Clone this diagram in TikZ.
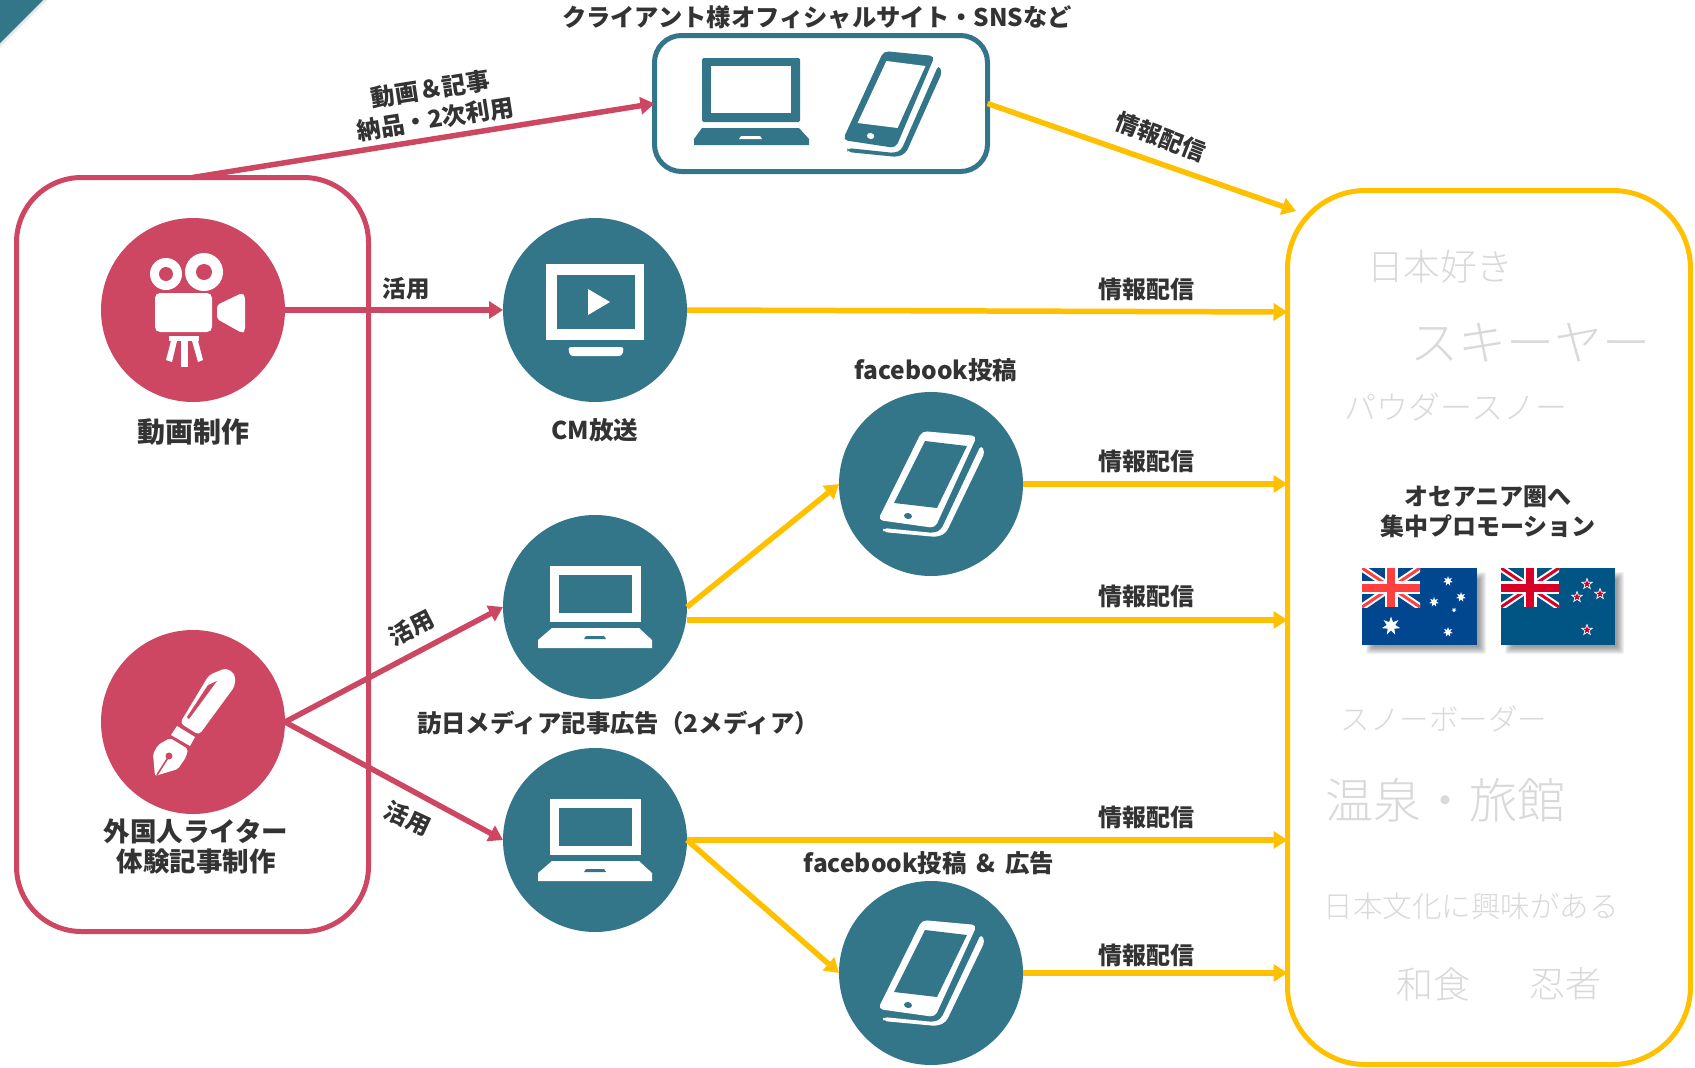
\documentclass[tikz,border=0pt]{standalone}
\usepackage{fontspec}
\setmainfont{Noto Sans CJK JP}
\newfontfamily\lightjp{Noto Sans CJK JP Light}
\usetikzlibrary{arrows.meta,shapes.geometric,calc}
\definecolor{teal}{HTML}{33768A}
\definecolor{rose}{HTML}{CD4662}
\definecolor{gold}{HTML}{FFC000}
\definecolor{ink}{HTML}{333333}
\definecolor{faint}{HTML}{D9D9D9}
\definecolor{aublue}{HTML}{00478F}
\definecolor{aured}{HTML}{FF4040}
\definecolor{nzblue}{HTML}{005584}
\definecolor{nzred}{HTML}{D80027}
\tikzset{
  disc/.style={circle,minimum size=184pt,inner sep=0pt,outer sep=0pt,fill=#1},
  frame/.style={rectangle,draw=#1,line width=5pt,fill=white,inner sep=0pt,outer sep=0pt},
  roseline/.style={draw=rose,line width=5.5pt,-{Triangle[width=17pt,length=14pt]},rose},
  goldline/.style={draw=gold,line width=5.5pt,-{Triangle[width=17pt,length=14pt]},gold},
  lab/.style={text=ink,inner sep=0pt,align=center,font=\bfseries\fontsize{#1}{30}\selectfont},
  pale/.style={text=faint,inner sep=0pt,font=\lightjp\fontsize{#1}{#1}\selectfont},
  austar/.style={star,star points=7,star point ratio=2.2,fill=white,inner sep=0pt,minimum size=#1},
  nzout/.style={star,star points=5,star point ratio=2.4,fill=white,inner sep=0pt,minimum size=13pt},
  nzin/.style={star,star points=5,star point ratio=2.4,fill=nzred,inner sep=0pt,minimum size=8pt},
}
% laptop icon, relative to a centre
\newcommand\laptopicon[4]{%
\begin{scope}[shift={(#1,#2)}]
  \fill[#3] (-45,-41) rectangle (46,15);
  \fill[#4] (-36,-32) rectangle (37,6);
  \fill[#3] (-43,21) -- (44,21) -- (57,33) -- (57,41) -- (-57,41) -- (-57,33) -- cycle;
  \fill[#4] (-9,29) -- (9,29) -- (11,32) -- (-11,32) -- cycle;
\end{scope}}
% phone icon
\newcommand\phoneicon[4]{%
\begin{scope}[shift={(#1,#2)}]
  \fill[#3,rounded corners=4pt] (-48,44) -- (3,49) -- (10,46) -- (50,-39) -- (54,-32) -- (15,49) -- (6,53) -- (-48,48) -- cycle;
  \fill[#3,rounded corners=5pt] (-9,-53) -- (46,-48) -- (4,44) -- (-53,36) -- cycle;
  \fill[#4] (-6,-43) -- (36,-38) -- (6,24) -- (-37,19) -- cycle;
  \fill[#4,rotate around={-10:(-23,32)}] (-23,32) ellipse (4 and 3);
\end{scope}}
% union jack
\newcommand\ujack[6]{%
\begin{scope}
  \clip (#1,#2) rectangle (#3,#4);
  \draw[white,line width=7pt] (#1,#2) -- (#3,#4) (#1,#4) -- (#3,#2);
  \draw[#5,line width=#6] (#1,#2) -- (#3,#4) (#1,#4) -- (#3,#2);
  \draw[white,line width=13pt] ({(#1+#3)/2},#2) -- ({(#1+#3)/2},#4) (#1,{(#2+#4)/2}) -- (#3,{(#2+#4)/2});
  \draw[#5,line width=8pt] ({(#1+#3)/2},#2) -- ({(#1+#3)/2},#4) (#1,{(#2+#4)/2}) -- (#3,{(#2+#4)/2});
\end{scope}}
\newcommand\softshadow[4]{%
  \foreach \d in {0,1,...,7}{\fill[black,opacity=.055,rounded corners=2pt] ({#1+11-\d},{#2+11-\d}) rectangle ({#3+2+\d},{#4+2+\d});}}
\begin{document}
\begin{tikzpicture}[x=1pt,y=-1pt]
\useasboundingbox (0,0) rectangle (1695,1068);
% corner
\foreach \d in {0,2,4}{\fill[black,opacity=.05] (0,0) -- ({44+\d},0) -- (0,{44+\d}) -- cycle;}
\fill[teal] (0,0) -- (43,0) -- (0,43) -- cycle;
% frames
\node[frame=rose,rounded corners=65pt,minimum width=352pt,minimum height=754pt] (leftbox) at (192.5,554.5) {};
\node[frame=teal,rounded corners=27pt,minimum width=333pt,minimum height=136pt] (topbox) at (821,103.5) {};
\node[frame=gold,rounded corners=78pt,minimum width=403pt,minimum height=874pt] (rightbox) at (1489,627.5) {};
% discs
\node[disc=rose] (cam) at (193,310) {};
\node[disc=rose] (pen) at (193,722) {};
\node[disc=teal] (cm) at (595,310) {};
\node[disc=teal] (lapa) at (595,607) {};
\node[disc=teal] (lapb) at (595,840) {};
\node[disc=teal] (phonea) at (931,484) {};
\node[disc=teal] (phoneb) at (931,973) {};
% free ends on the right frame
\coordinate (rtop) at (1296,211);
\coordinate (rcm) at (rightbox.west |- 0,312);
\coordinate (rpa) at (rightbox.west |- phonea.east);
\coordinate (rla) at (rightbox.west |- 0,620);
\coordinate (rlb) at (rightbox.west |- lapb.east);
\coordinate (rpb) at (rightbox.west |- phoneb.east);
\coordinate (lapaout) at (lapa.east |- rla);
% connectors
\draw[roseline] (leftbox.north) -- (topbox.west);
\draw[roseline] (cam.east) -- (cm.west);
\draw[roseline] (pen.east) -- (lapa.west);
\draw[roseline] (pen.east) -- (lapb.west);
\draw[goldline] (topbox.east) -- (rtop);
\draw[goldline] (cm.east) -- (rcm);
\draw[goldline] (phonea.east) -- (rpa);
\draw[goldline] (lapa.east) -- (phonea.west);
\draw[goldline] (lapaout) -- (rla);
\draw[goldline] (lapb.east) -- (rlb);
\draw[goldline] (lapb.east) -- (phoneb.west);
\draw[goldline] (phoneb.east) -- (rpb);
% top box icons
\fill[teal,rounded corners=1.5pt] (702,58) rectangle (800,122);
\fill[white] (711,66) rectangle (791,113);
\fill[teal] (702,128) -- (799,128) -- (809,139) -- (809,145) -- (694,145) -- (694,139) -- cycle;
\fill[white] (741,136) -- (760,136) -- (762,139) -- (739,139) -- cycle;
\begin{scope}[shift={(892,104)},xscale=.93]
\phoneicon{0}{0}{teal}{white}
\end{scope}
% camera icon
\fill[white] (166,274) circle (16);
\fill[rose] (166,274) circle (7);
\fill[white] (204,272) circle (19);
\fill[rose] (204,272) circle (8);
\fill[white,rounded corners=5pt] (155,293) rectangle (212,332);
\fill[white,rounded corners=3pt] (217,305) -- (242,293) -- (245,296) -- (245,331) -- (242,333) -- (217,319) -- cycle;
\fill[white] (169,336) rectangle (199,341);
\fill[white] (171,341) -- (177,341) -- (172,362) -- (166,360) -- cycle;
\fill[white] (181,341) rectangle (188,367);
\fill[white] (192,341) -- (198,341) -- (203,360) -- (198,362) -- cycle;
% pen icon
\begin{scope}[shift={(193,722)}]
  \fill[white,rounded corners=4pt] (-13,1) -- (16,-47) -- (33,-54) -- (42,-48) -- (42,-36) -- (6,13) -- cycle;
  \fill[rose] (24,-41) -- (15,-37) -- (-6,-5) -- (-4,-3) -- cycle;
  \fill[white] (-16,4) -- (2,15) -- (-3,24) -- (-22,13) -- cycle;
  \fill[white,rounded corners=2pt] (-23,16) -- (-5,27) -- (-7,35) -- (-15,47) -- (-38,54) -- (-40,32) -- (-35,23) -- cycle;
  \draw[rose,line width=1.6pt] (-36,53) -- (-24,34);
  \fill[rose] (-24,34) circle (3.5);
\end{scope}
% monitor icon
\fill[white] (546,264) rectangle (644,340);
\fill[teal] (557,275) rectangle (635,329);
\fill[white] (588,289) -- (610,302) -- (588,315) -- cycle;
\fill[white,rounded corners=3pt] (568,347) -- (624,347) -- (622,356) -- (570,356) -- cycle;
% circle icons
\laptopicon{595}{607}{white}{teal}
\laptopicon{595}{840}{white}{teal}
\phoneicon{931}{484}{white}{teal}
\phoneicon{931}{973}{white}{teal}
% flags
\softshadow{1362}{568}{1477}{645}
\fill[aublue] (1362,568) rectangle (1477,645);
\ujack{1362}{568}{1420}{607}{aured}{3pt}
\node[austar=19pt] (aua) at (1391,626) {};
\node[austar=10pt] (aub) at (1448,581) {};
\node[austar=10pt] (auc) at (1461,597) {};
\node[austar=10pt] (aud) at (1434,602) {};
\node[austar=5pt] (aue) at (1454,610) {};
\node[austar=10pt] (auf) at (1448,632) {};
\softshadow{1501}{568}{1615}{645}
\fill[nzblue] (1501,568) rectangle (1615,645);
\ujack{1501}{568}{1559}{607}{nzred}{3pt}
\foreach \n/\px/\py in {a/1587/584,b/1577/597,c/1600/594,d/1587/630}{
  \node[nzout] (nzo\n) at (\px,\py) {};
  \node[nzin] (nzi\n) at (\px,\py) {};
}
% labels
\node[lab=24.3] (tsite) at (817,17) {クライアント様オフィシャルサイト・SNSなど};
\node[lab=24,rotate=9] (tdeliv) at (433,104) {動画＆記事\\納品・2次利用};
\node[lab=23.5,rotate=-21] (tinfo) at (1161,137) {情報配信};
\node[lab=23.5] (tusea) at (406,289) {活用};
\node[lab=23.5,rotate=27] (tuseb) at (411,628) {活用};
\node[lab=23.5,rotate=-25] (tusec) at (408,818) {活用};
\node[lab=24] (tinfa) at (1146,289) {情報配信};
\node[lab=24] (tinfb) at (1146,461) {情報配信};
\node[lab=24] (tinfc) at (1146,596) {情報配信};
\node[lab=24] (tinfd) at (1146,817) {情報配信};
\node[lab=24] (tinfe) at (1146,955) {情報配信};
\node[lab=28] (tmov) at (193,432) {動画制作};
\node[lab=24.5] (tcm) at (595,430) {CM放送};
\node[lab=24.5] (tfba) at (936,370) {facebook投稿};
\node[lab=24.4] (tmedia) at (618,723) {訪日メディア記事広告（2メディア）};
\node[lab=24.5] (tfbb) at (929,863) {facebook投稿 \,\&\, 広告};
\node[lab=26.5] (twriter) at (196,846) {外国人ライター\\体験記事制作};
\node[lab=24] (tocean) at (1488,512) {オセアニア圏へ\\集中プロモーション};
% faint words
\node[pale=36.5] (w1) at (1440,267) {日本好き};
\node[pale=48] (w2) at (1530,343) {スキーヤー};
\node[pale=32] (w3) at (1456,407) {パウダースノー};
\node[pale=29.5] (w4) at (1444,719) {スノーボーダー};
\node[pale=48] (w5) at (1445,800) {温泉・旅館};
\node[pale=29.5] (w6) at (1471,906) {日本文化に興味がある};
\node[pale=37] (w7) at (1433,984) {和食};
\node[pale=36] (w8) at (1565,984) {忍者};
\end{tikzpicture}
\end{document}
